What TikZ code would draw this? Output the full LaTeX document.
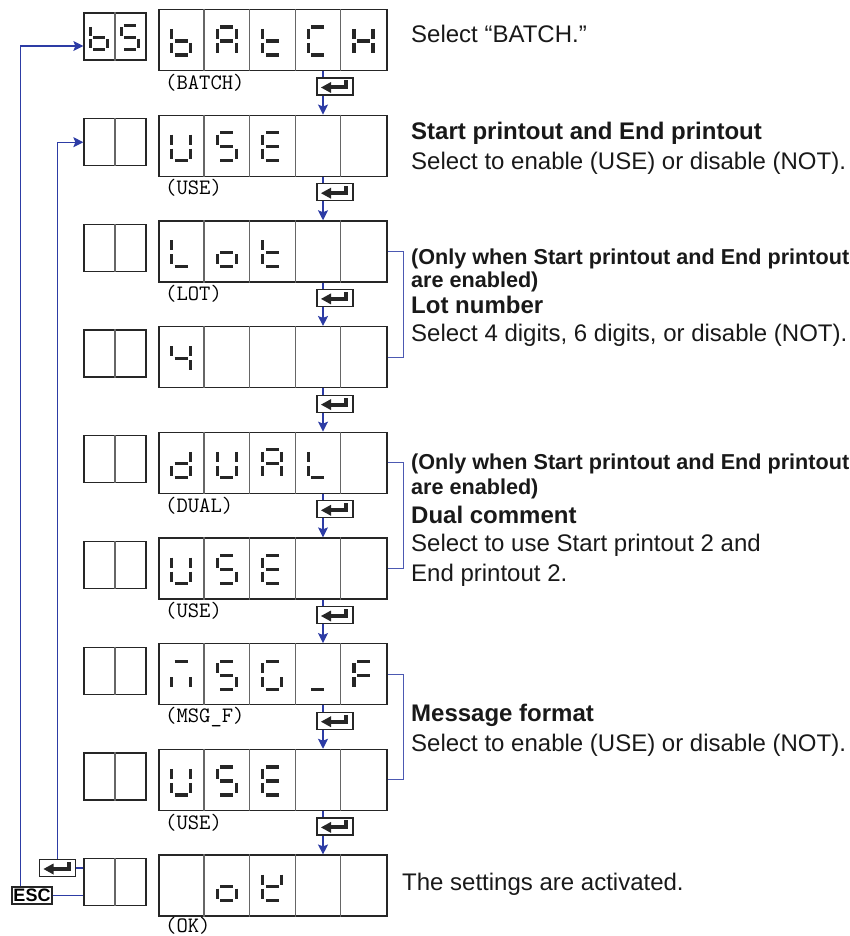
\documentclass[tikz,border=0pt]{standalone}
\usepackage{fontspec}
\setmainfont{Liberation Sans}
\usetikzlibrary{arrows.meta}
\definecolor{flowblue}{RGB}{45,60,165}

% seven-segment pieces, y axis points down
\newcommand{\dsega}{\draw[segpiece] (-6.5,-14) -- (6.5,-14);}
\newcommand{\dsegb}{\draw[segpiece] (9.5,-12) -- (9.5,-2);}
\newcommand{\dsegc}{\draw[segpiece] (9.5,2) -- (9.5,12);}
\newcommand{\dsegd}{\draw[segpiece] (-6.5,14) -- (6.5,14);}
\newcommand{\dsege}{\draw[segpiece] (-9.5,2) -- (-9.5,12);}
\newcommand{\dsegf}{\draw[segpiece] (-9.5,-12) -- (-9.5,-2);}
\newcommand{\dsegg}{\draw[segpiece] (-6.5,0) -- (6.5,0);}
% [scale]{box}{offset from west}{segments}
\newcommand{\celldigit}[4][1]{%
  \begin{scope}[shift={([xshift=#3pt, yshift=-1pt]#2.west)}, scale=#1]
    \foreach \s in {#4} {\csname dseg\s\endcsname}
  \end{scope}}

\begin{document}
\begin{tikzpicture}[x=1pt, y=-1pt,
    dispbox/.style={draw=black!85, line width=1.3pt, minimum width=228pt, minimum height=61pt, inner sep=0pt},
    minibox/.style={draw=black!85, line width=1.3pt, minimum width=62pt, minimum height=47pt, inner sep=0pt},
    celldiv/.style={draw=black!60, line width=1.3pt},
    segpiece/.style={line width=3.2pt, draw=black!85},
    flowline/.style={draw=flowblue, line width=1.2pt, -{Stealth[length=10pt, width=10pt, inset=2pt]}},
    plainline/.style={draw=flowblue, line width=1.2pt},
    bracketline/.style={draw=flowblue!85, line width=1pt},
    enterkey/.style={draw=black!85, line width=1.2pt, fill=white, minimum width=36pt, minimum height=17pt, inner sep=0pt,
      path picture={
        \begin{scope}[shift={(path picture bounding box.center)}]
          \fill[black!85] (-14,1) -- (-4,-4.5) -- (-4,6.5) -- cycle;
          \fill[black!85] (-4.5,-1) rectangle (13,3);
          \fill[black!85] (9,-6) rectangle (13,3);
        \end{scope}}},
    esckey/.style={draw=black!85, line width=1.2pt, fill=white, inner sep=0pt, minimum width=40pt, minimum height=17pt,
      font=\fontsize{18}{18}\selectfont\bfseries},
    codelabel/.style={anchor=west, inner sep=0pt, font=\fontsize{22}{22}\selectfont\ttfamily},
    desctext/.style={anchor=base west, inner sep=0pt, text=black!90, font=\fontsize{24}{29}\selectfont},
    headtext/.style={desctext, font=\fontsize{24}{29}\selectfont\bfseries},
    notetext/.style={desctext, font=\fontsize{21.6}{25}\selectfont\bfseries}
  ]
  \useasboundingbox (0,0) rectangle (850,936);

  % Display rows
  \foreach \i [evaluate=\i as \cy using 40+(\i-1)*105.7] in {1,...,9} {
    \node[dispbox] (d\i) at (273,\cy) {};
    \node[minibox] (b\i) at (115,\cy-3.5) {};
    \draw[celldiv] (b\i.north) -- (b\i.south);
    \foreach \k in {1,...,4}
      \draw[celldiv] ([xshift=\k*45.6pt]d\i.north west) -- ([xshift=\k*45.6pt]d\i.south west);
  }

  % Characters
  \celldigit[0.88]{b1}{15.5}{c,d,e,f,g}
  \celldigit[0.88]{b1}{46.5}{a,c,d,f,g}
  \celldigit{d1}{22.8}{c,d,e,f,g}
  \celldigit{d1}{68.4}{a,b,c,e,f,g}
  \celldigit{d1}{114}{d,e,f,g}
  \celldigit{d1}{159.6}{a,d,e,f}
  \celldigit{d1}{205.2}{b,c,e,f,g}
  \celldigit{d2}{22.8}{b,c,d,e,f}
  \celldigit{d2}{68.4}{a,c,d,f,g}
  \celldigit{d2}{114}{a,d,e,f,g}
  \celldigit{d3}{22.8}{d,e,f}
  \celldigit{d3}{68.4}{c,d,e,g}
  \celldigit{d3}{114}{d,e,f,g}
  \celldigit{d4}{22.8}{b,c,f,g}
  \celldigit{d5}{22.8}{b,c,d,e,g}
  \celldigit{d5}{68.4}{b,c,d,e,f}
  \celldigit{d5}{114}{a,b,c,e,f,g}
  \celldigit{d5}{159.6}{d,e,f}
  \celldigit{d6}{22.8}{b,c,d,e,f}
  \celldigit{d6}{68.4}{a,c,d,f,g}
  \celldigit{d6}{114}{a,d,e,f,g}
  \celldigit{d7}{22.8}{a,c,e}
  \celldigit{d7}{68.4}{a,c,d,f,g}
  \celldigit{d7}{114}{a,c,d,e,f}
  \celldigit{d7}{159.6}{d}
  \celldigit{d7}{205.2}{a,e,f,g}
  \celldigit{d8}{22.8}{b,c,d,e,f}
  \celldigit{d8}{68.4}{a,c,d,f,g}
  \celldigit{d8}{114}{a,d,e,f,g}
  \celldigit{d9}{68.4}{c,d,e,g}
  \celldigit{d9}{114}{b,d,e,f,g}

  % Parameter names
  \node[codelabel] (l1) at (165,82.5) {(BATCH)};
  \node[codelabel] (l2) at (165,188.2) {(USE)};
  \node[codelabel] (l3) at (165,293.9) {(LOT)};
  \node[codelabel] (l5) at (165,505.3) {(DUAL)};
  \node[codelabel] (l6) at (165,611) {(USE)};
  \node[codelabel] (l7) at (165,716.7) {(MSG\_F)};
  \node[codelabel] (l8) at (165,822.4) {(USE)};
  \node[codelabel] (l9) at (165,925.5) {(OK)};

  % Descriptions
  \node[desctext] (t1) at (411,43) {Select “BATCH.”};
  \node[headtext] (t2a) at (411,140) {Start printout and End printout};
  \node[desctext] (t2b) at (411,170) {Select to enable (USE) or disable (NOT).};
  \node[notetext] (t3a) at (411,264) {(Only when Start printout and End printout};
  \node[notetext] (t3b) at (411,287) {are enabled)};
  \node[headtext] (t3c) at (411,313) {Lot number};
  \node[desctext] (t3d) at (411,341) {Select 4 digits, 6 digits, or disable (NOT).};
  \node[notetext] (t5a) at (411,469) {(Only when Start printout and End printout};
  \node[notetext] (t5b) at (411,494) {are enabled)};
  \node[headtext] (t5c) at (411,523) {Dual comment};
  \node[desctext] (t5d) at (411,551) {Select to use Start printout 2 and};
  \node[desctext] (t5e) at (411,581) {End printout 2.};
  \node[headtext] (t7a) at (411,721) {Message format};
  \node[desctext] (t7b) at (411,751) {Select to enable (USE) or disable (NOT).};
  \node[desctext] (t9) at (402,890) {The settings are activated.};

  % Brackets
  \draw[bracketline] (d3.east) -- ++(16,0) |- (d4.east);
  \draw[bracketline] (d5.east) -- ++(16,0) |- (d6.east);
  \draw[bracketline] (d7.east) -- ++(16,0) |- (d8.east);

  % Keys and return paths
  \node[esckey] (esc) at (32,895.5) {ESC};
  \node[enterkey] (k0) at (57.5,868) {};
  \draw[plainline] (esc.east) -- (esc.east -| b9.west);
  \draw[plainline] (k0.east) -- (k0.east -| b9.west);
  \draw[flowline] ([xshift=9pt]esc.north west) |- ([yshift=-9.5pt]b1.west);
  \draw[flowline] (k0.north) |- (b2.west);

  % Main flow
  \coordinate (flowx) at (323,0);
  \foreach \i/\j in {1/2,2/3,3/4,4/5,5/6,6/7,7/8,8/9}
    \draw[flowline] (d\i.south -| flowx) -- (d\j.north -| flowx);
  \foreach \i [evaluate=\i as \ky using 86.5+(\i-1)*105.7] in {1,...,8}
    \node[enterkey] (k\i) at (335,\ky) {};
\end{tikzpicture}
\end{document}
